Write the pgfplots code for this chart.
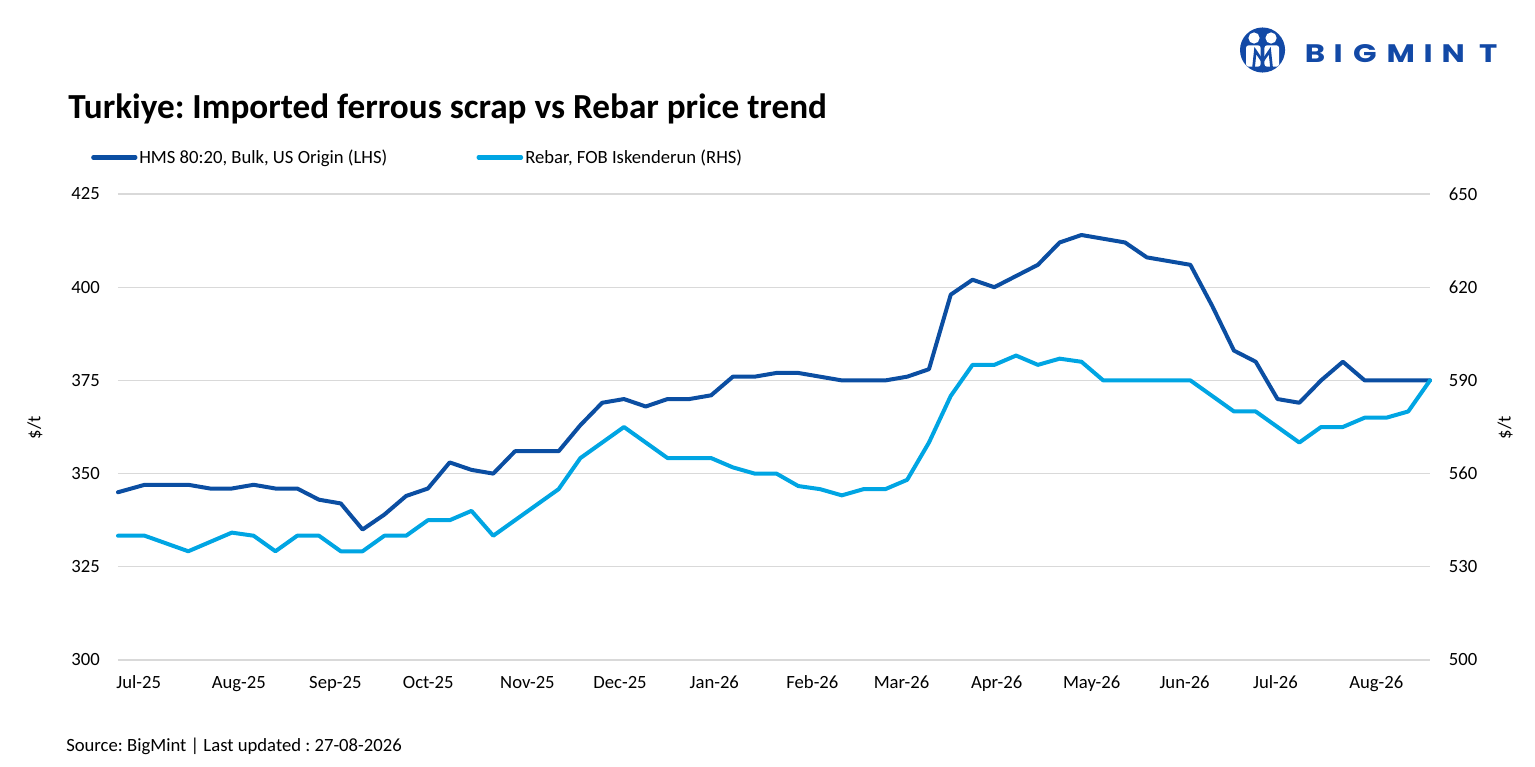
\documentclass[border=0pt]{standalone}
\usepackage{fontspec}
\setmainfont{Carlito}
\newfontfamily\logofont{Poppins}
\usepackage{pgfplots}
\pgfplotsset{compat=1.18}
\frenchspacing
\definecolor{dkblue}{HTML}{0B4EA2}
\definecolor{ltblue}{HTML}{00A5E3}
\definecolor{gridgray}{HTML}{D9D9D9}
\definecolor{logoblue}{HTML}{1249A6}

\pgfplotstableread{
x y
-1.226 345
0 347
1 347
2 347
3 346
4 346
5 347
6 346
7 346
8 343
9 342
10 335
11 339
12 344
13 346
14 353
15 351
16 350
17 356
18 356
19 356
20 363
21 369
22 370
23 368
24 370
25 370
26 371
27 376
28 376
29 377
30 377
31 376
32 375
33 375
34 375
35 376
36 378
37 398
38 402
39 400
40 403
41 406
42 412
43 414
44 413
45 412
46 408
47 407
48 406
49 395
50 383
51 380
52 370
53 369
54 375
55 380
56 375
57 375
58 375
59 375
}\hms

\pgfplotstableread{
x y
-1.226 540
0 540
1 537.5
2 535
3 538
4 541
5 540
6 535
7 540
8 540
9 535
10 535
11 540
12 540
13 545
14 545
15 548
16 540
17 545
18 550
19 555
20 565
21 570
22 575
23 570
24 565
25 565
26 565
27 562
28 560
29 560
30 556
31 555
32 553
33 555
34 555
35 558
36 570
37 585
38 595
39 595
40 598
41 595
42 597
43 596
44 590
45 590
46 590
47 590
48 590
49 585
50 580
51 580
52 575
53 570
54 575
55 575
56 578
57 578
58 580
59 590
}\rebar

\begin{document}
\begin{tikzpicture}
\useasboundingbox (0,0) rectangle (1151.25pt,-575.25pt);

% Title
\node[anchor=base west, inner sep=0pt, font=\fontsize{26.4}{30}\selectfont\bfseries] at (51pt,-88.7pt) {Turkiye: Imported ferrous scrap vs Rebar price trend};

% Legend
\draw[dkblue, line width=3.2pt, line cap=round] (70pt,-118.1pt) -- (101.5pt,-118.1pt);
\node[anchor=base west, inner sep=0pt, font=\fontsize{14}{16}\selectfont] at (104.25pt,-122.5pt) {HMS 80:20, Bulk, US Origin (LHS)};
\draw[ltblue, line width=3.2pt, line cap=round] (359pt,-118.1pt) -- (390.8pt,-118.1pt);
\node[anchor=base west, inner sep=0pt, font=\fontsize{14}{16}\selectfont] at (393.75pt,-122.5pt) {Rebar, FOB Iskenderun (RHS)};

% Source
\node[anchor=base west, inner sep=0pt, font=\fontsize{14}{16}\selectfont] at (49.5pt,-563.8pt) {Source: BigMint | Last updated : 27-08-2026};

% Logo
\fill[logoblue] (946.9pt,-37.5pt) circle (16.9pt);
\fill[white] (940.5pt,-28.5pt) circle (4.2pt);
\fill[white] (953.3pt,-28.5pt) circle (4.2pt);
\fill[white, rounded corners=2pt] (934.5pt,-34pt) rectangle (945.5pt,-50pt);
\fill[white, rounded corners=2pt] (948.3pt,-34pt) rectangle (959.3pt,-50pt);
\draw[logoblue, line width=2pt, line join=miter] (940pt,-52pt) -- (941.5pt,-38pt) -- (946.9pt,-46pt) -- (952.3pt,-38pt) -- (953.8pt,-52pt);
\begin{scope}[font=\fontsize{19}{21}\logofont\bfseries, text=logoblue]
\node[anchor=base, inner sep=0pt, xscale=1.22] at (986.25pt,-47pt) {B};
\node[anchor=base, inner sep=0pt, xscale=1.22] at (1003.7pt,-47pt) {I};
\node[anchor=base, inner sep=0pt, xscale=1.22] at (1023.75pt,-47pt) {G};
\node[anchor=base, inner sep=0pt, xscale=1.22] at (1050.6pt,-47pt) {M};
\node[anchor=base, inner sep=0pt, xscale=1.22] at (1071.2pt,-47pt) {I};
\node[anchor=base, inner sep=0pt, xscale=1.22] at (1090pt,-47pt) {N};
\node[anchor=base, inner sep=0pt, xscale=1.22] at (1116.2pt,-47pt) {T};
\end{scope}

\begin{axis}[
  at={(88.5pt,-495pt)}, anchor=south west,
  width=984pt, height=349.5pt, scale only axis,
  xmin=-1.226, xmax=59,
  ymin=300, ymax=425, ytick={300,325,...,425},
  xtick={-0.276,4.318,8.751,13.013,17.570,21.819,26.146,30.648,34.741,39.105,43.468,47.735,51.906,56.536},
  xticklabels={Jul-25,Aug-25,Sep-25,Oct-25,Nov-25,Dec-25,Jan-26,Feb-26,Mar-26,Apr-26,May-26,Jun-26,Jul-26,Aug-26},
  axis line style={draw=none},
  major tick length=0pt,
  ymajorgrids, grid style={gridgray, line width=1pt},
  /pgf/number format/assume math mode=true,
  tick label style={font=\fontsize{14}{16}\selectfont, inner sep=0pt},
  yticklabel style={anchor=east, xshift=-13.5pt},
  xticklabel style={anchor=base, yshift=-21.2pt},
  ylabel={\$/t},
  ylabel style={at={(axis description cs:-0.0633,0.498)}, anchor=center, font=\fontsize{14}{16}\selectfont},
  clip=false,
]
\addplot[dkblue, line width=3pt, line join=round, line cap=round] table[x=x,y=y] {\hms};
\end{axis}

\begin{axis}[
  at={(88.5pt,-495pt)}, anchor=south west,
  width=984pt, height=349.5pt, scale only axis,
  xmin=-1.226, xmax=59,
  ymin=500, ymax=650, ytick={500,530,...,650},
  hide x axis, axis y line*=right,
  axis line style={draw=none},
  major tick length=0pt,
  /pgf/number format/assume math mode=true,
  tick label style={font=\fontsize{14}{16}\selectfont, inner sep=0pt},
  yticklabel style={anchor=west, xshift=14pt},
  ylabel={\$/t},
  ylabel style={at={(axis description cs:1.0572,0.498)}, anchor=center, font=\fontsize{14}{16}\selectfont},
  clip=false,
]
\addplot[ltblue, line width=3pt, line join=round, line cap=round] table[x=x,y=y] {\rebar};
\end{axis}
\end{tikzpicture}
\end{document}
